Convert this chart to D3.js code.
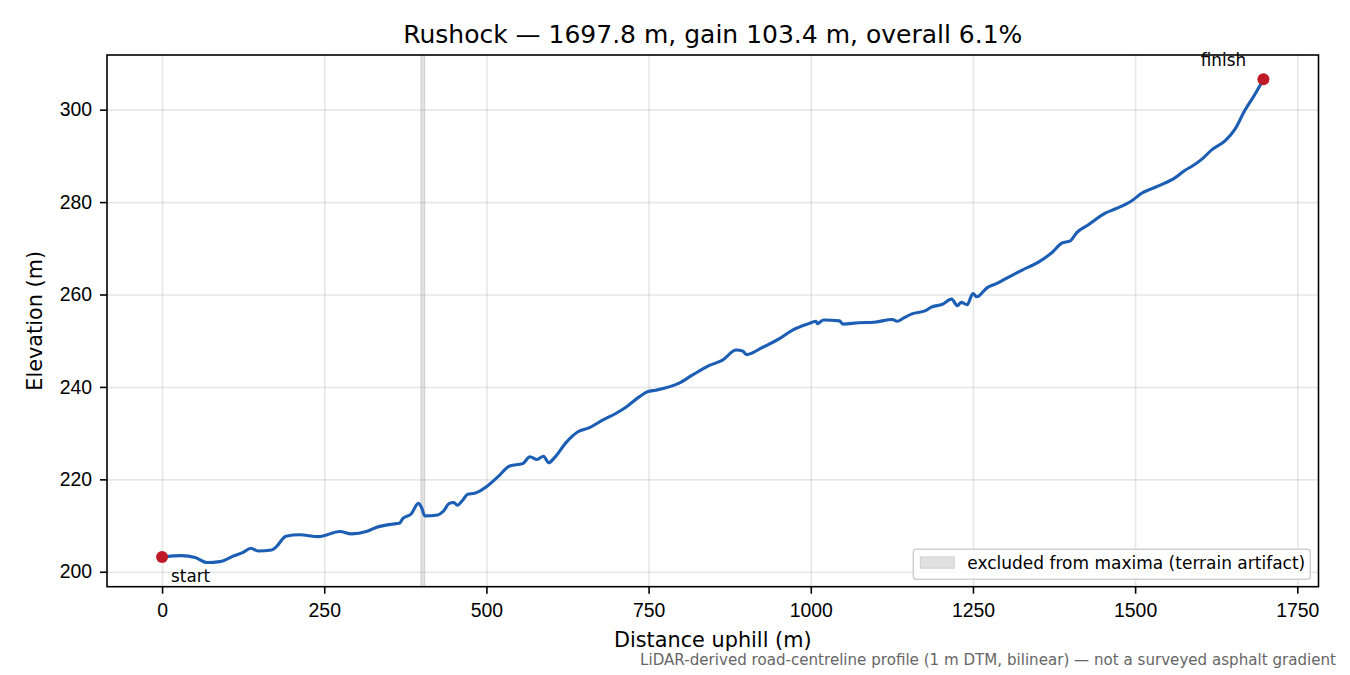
<!DOCTYPE html>
<html>
<head>
<meta charset="utf-8">
<script src="https://cdn.jsdelivr.net/npm/d3@7"></script>
<style>
  body { margin: 0; background: #fff; }
  svg { font-family: "DejaVu Sans", sans-serif; }
  .grid line { stroke: #b0b0b0; stroke-opacity: 0.3; stroke-width: 1.6; }
  .grid path { display: none; }
  .axis path, .axis line { stroke: #000; stroke-width: 1.6; }
  .axis text { font-size: 19.4px; fill: #000; }
</style>
</head>
<body>
<svg class="plot"></svg>
<script>
// profile (distance uphill in m, elevation in m)
const dist = [0, 30, 51, 69, 89, 110, 125, 137, 148, 169, 176, 191, 212, 241, 274, 292, 315, 330, 354, 366,
  371, 384, 395, 400, 405, 425, 433, 443, 450, 455, 464, 471, 482, 500, 518, 536, 556, 567, 578, 588,
  596, 605, 623, 641, 659, 679, 700, 715, 736, 749, 761, 797, 818, 843, 864, 885, 895, 901, 925, 951,
  972, 997, 1008, 1010, 1020, 1044, 1050, 1074, 1097, 1126, 1133, 1144, 1156, 1177, 1185, 1203, 1217, 1226, 1232, 1241,
  1250, 1256, 1272, 1287, 1295, 1326, 1351, 1372, 1387, 1400, 1410, 1428, 1454, 1469, 1495, 1510, 1536, 1562, 1577, 1587,
  1603, 1618, 1639, 1654, 1669, 1685, 1697.8]
const elev = [203.2, 203.5, 203.1, 202.0, 202.2, 203.4, 204.2, 205.1, 204.5, 204.7, 205.4, 207.7, 208.0, 207.6, 208.7, 208.2, 208.7, 209.6, 210.3, 210.5,
  211.5, 212.5, 214.8, 213.9, 212.1, 212.3, 213.0, 214.8, 215.0, 214.4, 215.6, 216.8, 217.0, 218.4, 220.6, 222.9, 223.4, 224.9, 224.3, 225.0,
  223.6, 224.7, 228.0, 230.3, 231.2, 232.8, 234.3, 235.6, 237.9, 239.0, 239.3, 240.8, 242.6, 244.6, 245.8, 248.0, 247.8, 247.0, 248.5, 250.4,
  252.3, 253.7, 254.2, 253.7, 254.5, 254.3, 253.6, 253.9, 254.0, 254.6, 254.2, 255.0, 255.8, 256.5, 257.2, 257.9, 259.0, 257.6, 258.3, 257.8,
  260.2, 259.5, 261.5, 262.4, 263.0, 265.3, 267.0, 269.1, 271.1, 271.6, 273.4, 275.1, 277.6, 278.5, 280.3, 281.9, 283.5, 285.3, 286.9, 287.7,
  289.3, 291.3, 293.3, 295.8, 299.8, 303.4, 306.6]
const excluded = [[399, 405]]
const xTicks = [0, 250, 500, 750, 1000, 1250, 1500, 1750]
const yTicks = [200, 220, 240, 260, 280, 300]
const titleText = 'Rushock \u2014 1697.8 m, gain 103.4 m, overall 6.1%'
const legendText = 'excluded from maxima (terrain artifact)'
const footText = 'LiDAR-derived road-centreline profile (1 m DTM, bilinear) \u2014 not a surveyed asphalt gradient'

const data = dist.map((d, i) => ({ x: d, y: elev[i] }))

const W = 1350, H = 675
const margin = { left: 107, top: 55, right: 1350 - 1318.5, bottom: 675 - 586.7 }
const dimen = { width: W - margin.left - margin.right, height: H - margin.top - margin.bottom }

// matplotlib style 5% padding around the data
const pad = (lo, hi) => [lo - (hi - lo) * 0.05, hi + (hi - lo) * 0.05]
const xScale = d3.scaleLinear()
  .domain(pad(d3.min(dist), d3.max(dist)))
  .range([0, dimen.width])
const yScale = d3.scaleLinear()
  .domain(pad(d3.min(elev), d3.max(elev)))
  .range([dimen.height, 0])

const svg = d3.select('.plot')
    .attr('width', W)
    .attr('height', H)
const canvas = svg.append('g')
    .attr('transform', `translate(${margin.left}, ${margin.top})`)

// Grid
// ====
const grid = canvas.append('g').attr('class', 'grid')
grid.append('g')
    .attr('transform', `translate(0, ${dimen.height})`)
    .call(d3.axisBottom(xScale).tickValues(xTicks).tickSize(-dimen.height).tickFormat(''))
grid.append('g')
    .call(d3.axisLeft(yScale).tickValues(yTicks).tickSize(-dimen.width).tickFormat(''))

// excluded span
canvas.append('g')
  .selectAll('rect')
    .data(excluded)
  .enter().append('rect')
    .attr('x', d => xScale(d[0]))
    .attr('width', d => xScale(d[1]) - xScale(d[0]))
    .attr('y', 0)
    .attr('height', dimen.height)
    .attr('fill', '#9a9a9a')
    .attr('fill-opacity', 0.3)
    .attr('stroke', '#9a9a9a')
    .attr('stroke-opacity', 0.35)
    .attr('stroke-width', 1)

// Profile
// =======
const line = d3.line()
  .x(d => xScale(d.x))
  .y(d => yScale(d.y))
  .curve(d3.curveMonotoneX)
canvas.append('path')
    .datum(data)
    .attr('d', line)
    .attr('fill', 'none')
    .attr('stroke', '#1c5eb4')
    .attr('stroke-width', 3.1)
    .attr('stroke-linejoin', 'round')
    .attr('stroke-linecap', 'round')

// start / finish markers
const ends = [data[0], data[data.length - 1]]
canvas.append('g')
  .selectAll('circle')
    .data(ends)
  .enter().append('circle')
    .attr('cx', d => xScale(d.x))
    .attr('cy', d => yScale(d.y))
    .attr('r', 6)
    .attr('fill', '#c01a28')

canvas.append('text')
    .attr('x', xScale(ends[0].x) + 9)
    .attr('y', yScale(ends[0].y) + 25)
    .attr('font-size', 16.8)
    .text('start')
canvas.append('text')
    .attr('x', xScale(ends[1].x) - 40)
    .attr('y', yScale(ends[1].y) - 13)
    .attr('text-anchor', 'middle')
    .attr('font-size', 16.8)
    .text('finish')

// Axes
// ====
const xAxis = canvas.append('g')
    .attr('class', 'axis')
    .attr('transform', `translate(0, ${dimen.height})`)
    .call(d3.axisBottom(xScale).tickValues(xTicks).tickSize(7).tickPadding(9.5).tickFormat(d3.format('d')))
const yAxis = canvas.append('g')
    .attr('class', 'axis')
    .call(d3.axisLeft(yScale).tickValues(yTicks).tickSize(7).tickPadding(8).tickFormat(d3.format('d')))
xAxis.select('.domain').remove()
yAxis.select('.domain').remove()

// frame
canvas.append('rect')
    .attr('width', dimen.width)
    .attr('height', dimen.height)
    .attr('fill', 'none')
    .attr('stroke', '#000')
    .attr('stroke-width', 1.6)

// Legend
// ======
const legend = canvas.append('g')
    .attr('transform', `translate(${913.3 - margin.left}, ${549.3 - margin.top})`)
legend.append('rect')
    .attr('width', 397)
    .attr('height', 30)
    .attr('rx', 3)
    .attr('fill', '#fff')
    .attr('fill-opacity', 0.8)
    .attr('stroke', '#d0d0d0')
    .attr('stroke-width', 1.5)
legend.append('rect')
    .attr('x', 7)
    .attr('y', 7.5)
    .attr('width', 34)
    .attr('height', 11.5)
    .attr('fill', '#9a9a9a')
    .attr('fill-opacity', 0.3)
    .attr('stroke', '#9a9a9a')
    .attr('stroke-opacity', 0.35)
legend.append('text')
    .attr('x', 54)
    .attr('y', 20)
    .attr('font-size', 17)
    .text(legendText)

// Labels
// ======
svg.append('text')
    .attr('x', margin.left + dimen.width / 2)
    .attr('y', 43)
    .attr('text-anchor', 'middle')
    .attr('font-size', 25)
    .text(titleText)
svg.append('text')
    .attr('x', margin.left + dimen.width / 2)
    .attr('y', 647)
    .attr('text-anchor', 'middle')
    .attr('font-size', 20.8)
    .text('Distance uphill (m)')
svg.append('text')
    .attr('transform', `translate(42, ${margin.top + dimen.height / 2}) rotate(-90)`)
    .attr('text-anchor', 'middle')
    .attr('font-size', 20.8)
    .text('Elevation (m)')
svg.append('text')
    .attr('x', 1336)
    .attr('y', 665)
    .attr('text-anchor', 'end')
    .attr('font-size', 15.1)
    .attr('fill', '#666')
    .text(footText)
</script>
</body>
</html>
